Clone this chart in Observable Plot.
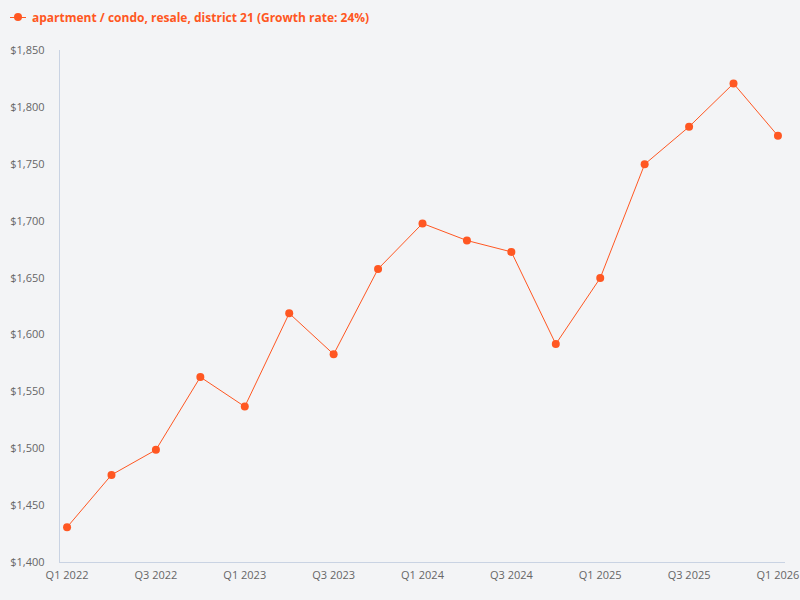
<!DOCTYPE html>
<html>
<head>
<meta charset="utf-8">
<script src="https://cdn.jsdelivr.net/npm/d3@7"></script>
<script src="https://cdn.jsdelivr.net/npm/@observablehq/plot@0.6"></script>
<style>
  html, body { margin: 0; padding: 0; background: #f3f4f6; width: 800px; height: 600px; overflow: hidden; }
  body { font-family: "Open Sans", sans-serif; }
  #legend { height: 36px; display: flex; align-items: center; padding-left: 10px; box-sizing: border-box; padding-bottom: 2px; }
  #legend .sw { position: relative; width: 16px; height: 10px; margin-right: 6px; }
  #legend .sw .ln { position: absolute; left: 0; right: 0; top: 4.5px; height: 1px; background: #ff5722; }
  #legend .sw .dt { position: absolute; left: 4px; top: 1px; width: 8px; height: 8px; border-radius: 50%; background: #ff5722; }
  #legend .tx { color: #ff5722; font-weight: 700; font-size: 12px; }
</style>
</head>
<body>
<div id="legend"><div class="sw"><div class="ln"></div><div class="dt"></div></div><span class="tx">apartment / condo, resale, district 21 (Growth rate: 24%)</span></div>
<div id="chart"></div>
<script>
const quarters = ["Q1 2022","Q2 2022","Q3 2022","Q4 2022","Q1 2023","Q2 2023","Q3 2023","Q4 2023","Q1 2024","Q2 2024","Q3 2024","Q4 2024","Q1 2025","Q2 2025","Q3 2025","Q4 2025","Q1 2026"];
const prices = [1431, 1477, 1499, 1563, 1537, 1619, 1583, 1658, 1698, 1683, 1673, 1592, 1650, 1750, 1783, 1821, 1775];
const xTicks = ["Q1 2022","Q3 2022","Q1 2023","Q3 2023","Q1 2024","Q3 2024","Q1 2025","Q3 2025","Q1 2026"];
const yTicks = [1400, 1450, 1500, 1550, 1600, 1650, 1700, 1750, 1800, 1850];

const data = quarters.map((q, i) => ({q, v: prices[i]}));
const color = "#ff5722";

const chart = Plot.plot({
  width: 800,
  height: 564,
  marginTop: 14,
  marginBottom: 38,
  marginLeft: 59,
  marginRight: 15,
  style: {background: "transparent", fontFamily: "Open Sans, sans-serif", fontSize: "11px", color: "#666"},
  x: {type: "point", domain: quarters, padding: 0.17, round: false},
  y: {domain: [1400, 1850]},
  marks: [
    Plot.frame({anchor: "left", stroke: "#c9d3e3"}),
    Plot.ruleY([1400], {stroke: "#c9d3e3"}),
    Plot.axisX({ticks: xTicks, tickSize: 0, tickPadding: 9, label: null, fill: "#666", fontSize: 11}),
    Plot.axisY({ticks: yTicks, tickSize: 0, tickPadding: 15, label: null, tickFormat: d => "$" + d3.format(",")(d), fill: "#666", fontSize: 11}),
    Plot.line(data, {x: "q", y: "v", stroke: color, strokeWidth: 1}),
    Plot.dot(data, {x: "q", y: "v", fill: color, r: 4})
  ]
});
document.getElementById("chart").appendChild(chart);
</script>
</body>
</html>
